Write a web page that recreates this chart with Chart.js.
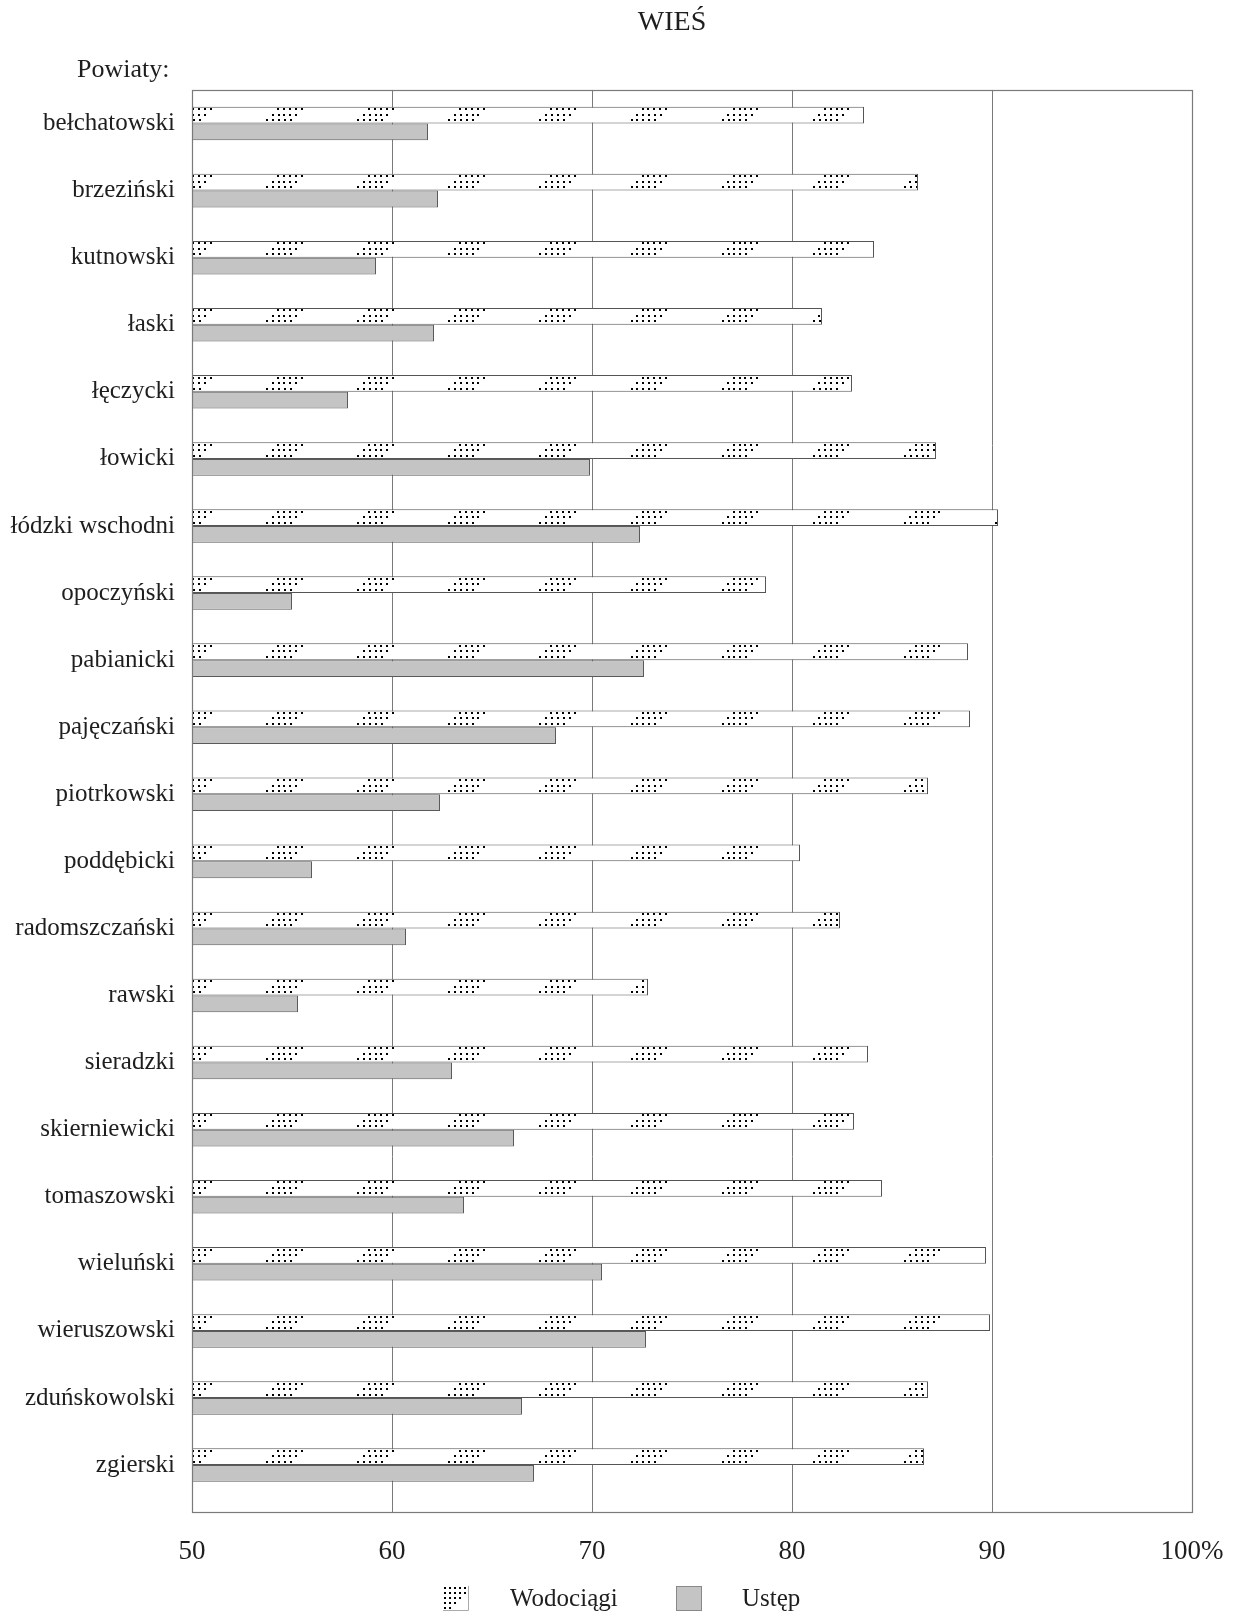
<!DOCTYPE html>
<html>
<head>
<meta charset="utf-8">
<script src="https://cdn.jsdelivr.net/npm/chart.js@4/dist/chart.umd.min.js"></script>
<style>
  html, body { margin: 0; padding: 0; background: #fff; }
  #wrap { width: 1233px; height: 1617px; position: relative; }
</style>
</head>
<body>
<div id="wrap"><canvas id="c" width="1233" height="1617"></canvas></div>
<script>
const titleText = 'WIEŚ';
const axisTitle = 'Powiaty:';
const categories = ['bełchatowski','brzeziński','kutnowski','łaski','łęczycki','łowicki','łódzki wschodni','opoczyński','pabianicki','pajęczański','piotrkowski','poddębicki','radomszczański','rawski','sieradzki','skierniewicki','tomaszowski','wieluński','wieruszowski','zduńskowolski','zgierski'];
const wodociagi = [83.6, 86.3, 84.1, 81.5, 83.0, 87.2, 90.3, 78.7, 88.8, 88.9, 86.8, 80.4, 82.4, 72.8, 83.8, 83.1, 84.5, 89.7, 89.9, 86.8, 86.6];
const ustep = [61.8, 62.3, 59.2, 62.1, 57.8, 69.9, 72.4, 55.0, 72.6, 68.2, 62.4, 56.0, 60.7, 55.3, 63.0, 66.1, 63.6, 70.5, 72.7, 66.5, 67.1];
const seriesLabels = ['Wodociągi', 'Ustęp'];
const xMin = 50, xMax = 100, xStep = 10;
// index range of the category axis (empty space below the last powiat)
const yMin = -0.5, yMax = 20.7;

const FONT = '"Liberation Serif", "Times New Roman", serif';
const TEXT = '#1e1e1e';

function drawDots(ctx, left, top, right, bottom, anchor) {
  const period = 91.1;
  const rows = [{dy: 1, dx: 0}, {dy: 6.5, dx: -5.5}, {dy: 12, dx: -11}];
  ctx.save();
  ctx.beginPath();
  ctx.rect(left, top, right - left, bottom - top);
  ctx.clip();
  ctx.fillStyle = '#000000';
  for (let g = anchor; g < right + 40; g += period) {
    for (const r of rows) {
      for (let i = 0; i < 5; i++) {
        const x = g + r.dx + i * 5.9;
        ctx.fillRect(Math.round(x), Math.round(top + r.dy), 2, 2);
      }
    }
  }
  ctx.restore();
}

const decor = {
  id: 'decor',
  afterDatasetsDraw(chart) {
    const ctx = chart.ctx;
    const ca = chart.chartArea;
    const meta = chart.getDatasetMeta(0);
    const anchor = ca.left - 6;
    meta.data.forEach(el => {
      const p = el.getProps(['x', 'y', 'base', 'height'], true);
      const top = p.y - p.height / 2, bottom = p.y + p.height / 2;
      const l = Math.max(ca.left, Math.min(p.base, p.x)) + 1;
      const r = Math.max(p.base, p.x) - 1;
      drawDots(ctx, l, top + 0.5, r, bottom - 0.5, anchor);
    });
  },
  afterDraw(chart) {
    const ctx = chart.ctx;
    const ca = chart.chartArea;
    ctx.save();
    ctx.strokeStyle = '#7a7a7a';
    ctx.lineWidth = 1.2;
    ctx.strokeRect(Math.round(ca.left) + 0.5, Math.round(ca.top) + 0.5, Math.round(ca.right - ca.left), Math.round(ca.bottom - ca.top));
    ctx.fillStyle = TEXT;
    ctx.textBaseline = 'middle';
    ctx.textAlign = 'center';
    ctx.font = '28px ' + FONT;
    ctx.fillText(titleText, 672, 23);
    ctx.textAlign = 'left';
    ctx.font = '26px ' + FONT;
    ctx.fillText(axisTitle, 77, 70);
    const ds = chart.data.datasets;
    const items = [{box: 443, text: 510}, {box: 676, text: 742}];
    ds.forEach((d, i) => {
      const it = items[i];
      const bx = it.box, by = 1586, bw = 26, bh = 25;
      ctx.fillStyle = d.backgroundColor;
      ctx.fillRect(bx, by, bw, bh);
      if (i === 0) {
        ctx.fillStyle = '#000';
        const counts = [5, 5, 4, 3, 2];
        counts.forEach((n, r) => {
          for (let k = 0; k < n; k++) ctx.fillRect(bx + 1 + k * 5, by + 1 + r * 5, 2, 2);
        });
        ctx.strokeStyle = '#aaa';
        ctx.lineWidth = 1;
        ctx.beginPath();
        ctx.moveTo(bx + bw - 0.5, by); ctx.lineTo(bx + bw - 0.5, by + bh - 0.5); ctx.lineTo(bx, by + bh - 0.5);
        ctx.stroke();
      } else {
        ctx.strokeStyle = '#888';
        ctx.lineWidth = 1;
        ctx.strokeRect(bx + 0.5, by + 0.5, bw - 1, bh - 1);
      }
      ctx.fillStyle = TEXT;
      ctx.font = '25px ' + FONT;
      ctx.textAlign = 'left';
      ctx.textBaseline = 'middle';
      ctx.fillText(d.label, it.text, 1599);
    });
    ctx.restore();
  }
};

new Chart(document.getElementById('c'), {
  type: 'bar',
  data: {
    datasets: [
      { label: seriesLabels[0], data: wodociagi.map((v, i) => ({ x: v, y: i })), backgroundColor: '#ffffff', borderColor: '#555555', borderWidth: 1, borderSkipped: 'start' },
      { label: seriesLabels[1], data: ustep.map((v, i) => ({ x: v, y: i })), backgroundColor: '#c4c4c4', borderColor: '#5a5a5a', borderWidth: 1, borderSkipped: 'start' }
    ]
  },
  options: {
    indexAxis: 'y',
    responsive: false,
    animation: false,
    devicePixelRatio: 1,
    layout: { padding: { top: 90, right: 41, bottom: 0, left: 0 } },
    datasets: { bar: { categoryPercentage: 0.5, barPercentage: 1.0 } },
    plugins: { legend: { display: false }, title: { display: false }, tooltip: { enabled: false } },
    scales: {
      x: {
        type: 'linear', min: xMin, max: xMax,
        afterFit: s => { s.height = 105; s.paddingLeft = 0; s.paddingRight = 0; },
        grid: { color: '#7a7a7a', lineWidth: 1, drawTicks: false },
        border: { display: false },
        ticks: {
          stepSize: xStep, padding: 24, color: TEXT,
          font: { family: FONT, size: 27 },
          callback: v => v === xMax ? v + '%' : String(v)
        }
      },
      y: {
        type: 'linear', min: yMin, max: yMax, reverse: true, offset: false,
        afterBuildTicks: s => { s.ticks = categories.map((c, i) => ({ value: i })); },
        afterFit: s => { s.width = 192; s.paddingTop = 0; s.paddingBottom = 0; },
        grid: { display: false, drawTicks: false },
        border: { display: false },
        ticks: { padding: 17, color: TEXT, font: { family: FONT, size: 25 },
          callback: v => categories[v] }
      }
    }
  },
  plugins: [decor]
});
</script>
</body>
</html>
